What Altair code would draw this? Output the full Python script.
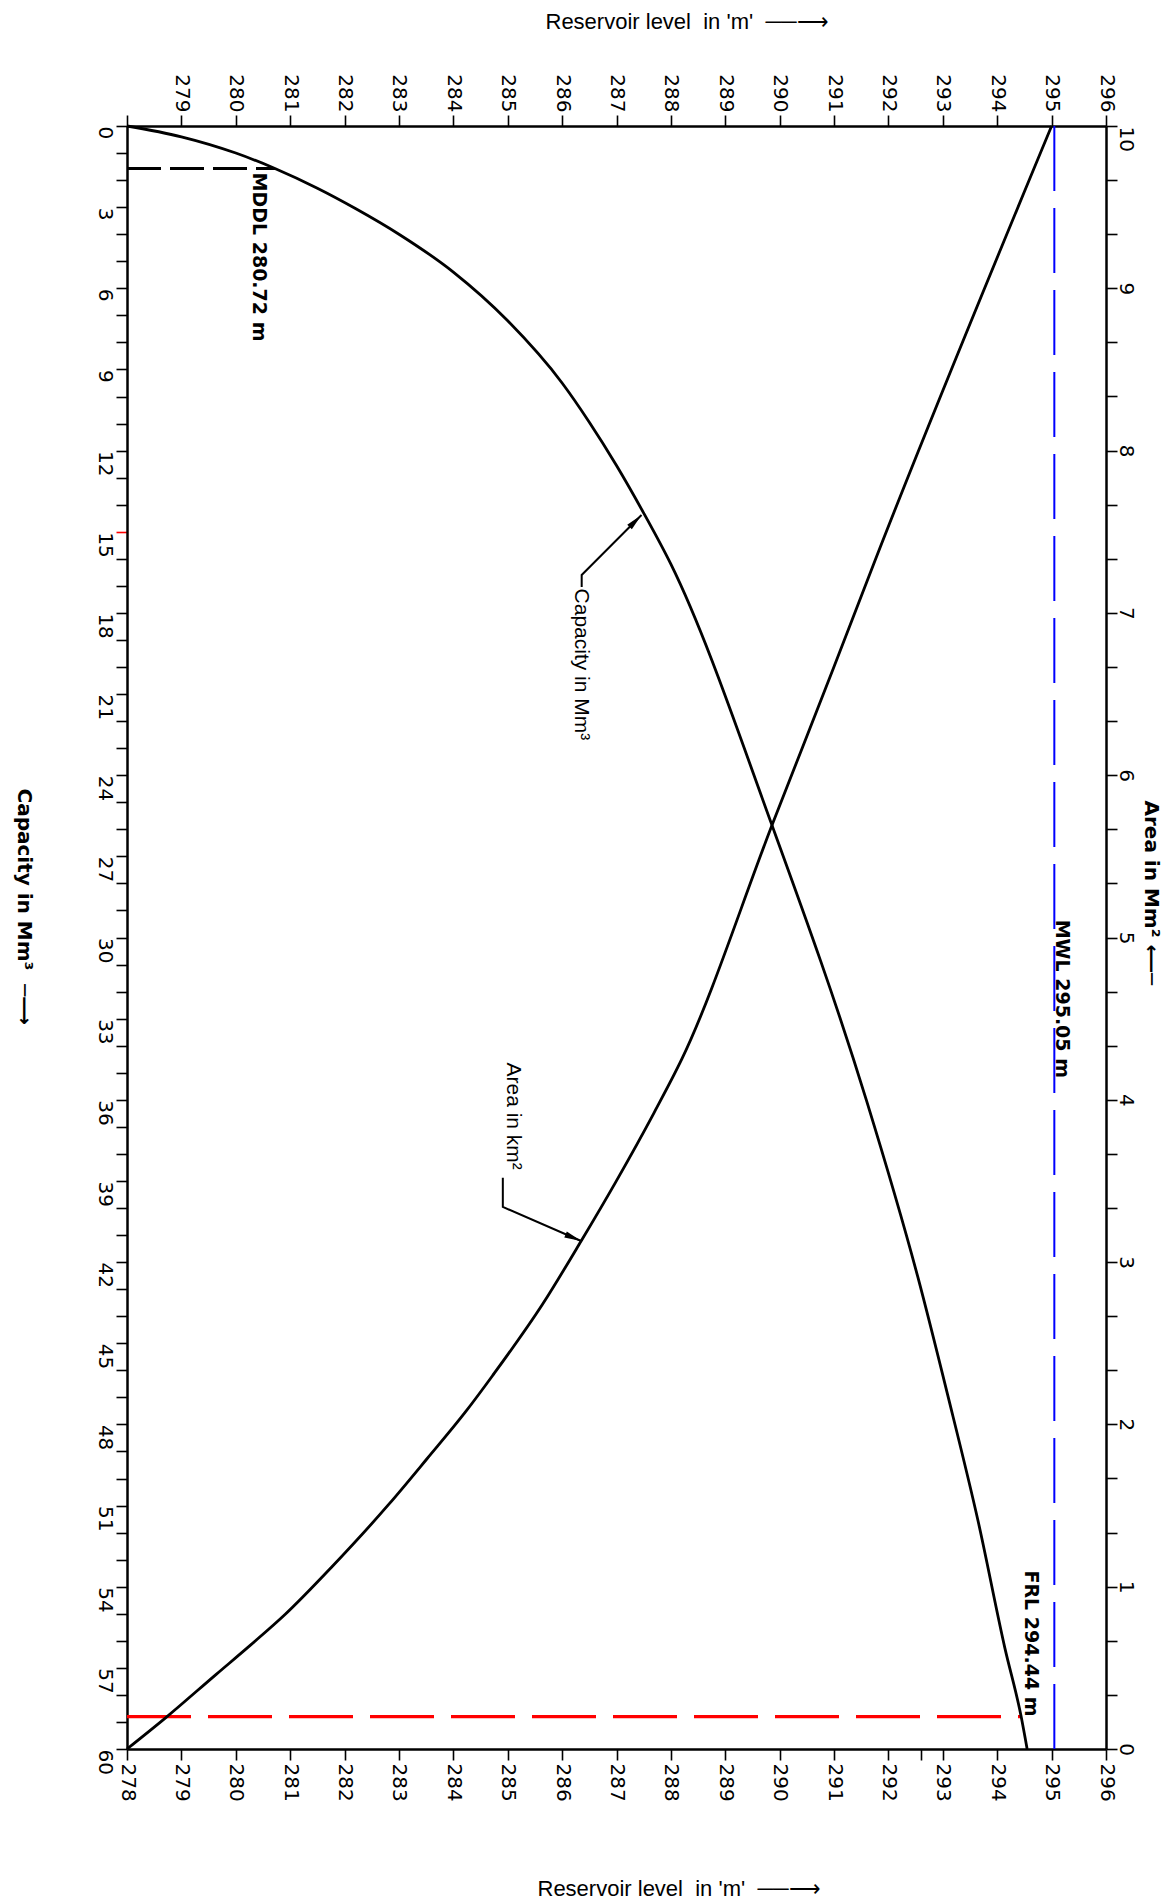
import altair as alt
import pandas as pd

# ---------------- values ----------------
level_min, level_max = 278, 296
cap_min, cap_max = 0, 60
area_min, area_max = 0, 10

# Capacity curve: reservoir level (m) vs capacity (Mm3)
cap_level = [278.0, 279.0, 280.0, 280.72, 281.5, 282.2, 283.0, 284.0, 285.0,
             286.0, 286.5, 287.0, 287.5, 288.0, 289.85, 291.6, 292.54, 293.09,
             293.65, 294.14, 294.44, 294.55]
cap_value = [0.0, 0.4, 1.0, 1.57, 2.3, 3.05, 4.0, 5.4, 7.2,
             9.5, 10.95, 12.55, 14.31, 16.2, 25.8, 36.05, 42.55, 46.92,
             51.59, 56.26, 58.8, 60.0]

# Area curve: reservoir level (m) vs area (km2)
area_level = [278.0, 278.72, 279.64, 280.27, 280.91, 281.76, 282.82, 283.52, 284.23,
              284.72, 285.64, 286.35, 286.98, 287.69, 288.2, 289.88, 290.99, 291.75, 295.0]
area_value = [0.0, 0.195, 0.46, 0.64, 0.83, 1.12, 1.51, 1.79, 2.08,
              2.30, 2.74, 3.13, 3.49, 3.92, 4.25, 5.71, 6.66, 7.32, 10.0]

# Reference levels
mddl_level, mddl_cap = 280.72, 1.57
frl_level, frl_cap = 294.44, 58.8
mwl_level = 295.05

# Tick values
level_ticks = list(range(278, 297))
level_extra_tick = [292.6]
cap_ticks = list(range(0, 61))
area_ticks = [i / 3 for i in range(31)]

# Text labels (position in data units)
mddl_label = ["MDDL 280.72 m", 280.42, 1.72]
mwl_label = ["MWL 295.05 m", 295.2, 5.11]
frl_label = ["FRL 294.44 m", 294.63, 58.8]

cap_note = ["Capacity in Mm³", 286.34, 17.1]
cap_leader_level = [286.36, 286.36, 287.46]
cap_leader_cap = [17.04, 16.6, 14.38]

area_note = ["Area in km²", 285.1, 4.23]
area_leader_level = [284.91, 284.91, 286.35]
area_leader_area = [3.52, 3.34, 3.13]

NB = "\u00a0"
level_title = f"Reservoir level{NB}{NB}in 'm'{NB}{NB}──⟶"
cap_title = f"Capacity in Mm³{NB}{NB}─⟶"
area_title = f"Area in Mm²{NB}⟵─"

# ---------------- helpers ----------------
W, H = 979, 1623
LBL_FONT = "DejaVu Sans"


def xenc(field, axis=None):
    return alt.X(f"{field}:Q",
                 scale=alt.Scale(domain=[level_min, level_max], nice=False, zero=False),
                 axis=axis)


def xenc2(field):
    return alt.X2(f"{field}:Q")


def ycap(field, axis=None):
    return alt.Y(f"{field}:Q",
                 scale=alt.Scale(domain=[cap_min, cap_max], reverse=True, nice=False, zero=False),
                 axis=axis)


def yarea(field, axis=None):
    return alt.Y(f"{field}:Q",
                 scale=alt.Scale(domain=[area_min, area_max], nice=False, zero=False),
                 axis=axis)


common_axis = dict(
    domainColor="black", domainWidth=2.5, tickColor="black", tickWidth=1.6,
    tickSize=11, labelColor="black", labelFont=LBL_FONT, labelFontSize=20,
    grid=False, labelOverlap=False, labelFlush=False, labelBound=False,
    titleColor="black",
)

bottom_axis = alt.Axis(
    orient="bottom", values=level_ticks + level_extra_tick,
    labelExpr="datum.value % 1 === 0 ? format(datum.value, 'd') : ''",
    labelAngle=90, labelAlign="left", labelBaseline="middle", labelPadding=3,
    title=level_title, titleFont="Liberation Sans", titleFontSize=22,
    titleFontWeight="normal", titleAngle=0, titleAlign="left",
    titleBaseline="middle", titleX=410, titleY=139, **common_axis)

top_axis = alt.Axis(
    orient="top", values=level_ticks,
    labelExpr="datum.value === 278 ? '' : format(datum.value, 'd')",
    labelAngle=90, labelAlign="right", labelBaseline="middle", labelPadding=3,
    title=level_title, titleFont="Liberation Sans", titleFontSize=22,
    titleFontWeight="normal", titleAngle=0, titleAlign="left",
    titleBaseline="middle", titleX=418, titleY=-105, **common_axis)

left_axis_kw = dict(common_axis)
left_axis_kw["tickColor"] = {"condition": {"test": "datum.value === 15", "value": "#ff0000"},
                             "value": "black"}
left_axis = alt.Axis(
    orient="left", values=cap_ticks,
    labelExpr="datum.value % 3 === 0 ? format(datum.value, 'd') : ''",
    labelAngle=90, labelAlign="left", labelBaseline="middle", labelPadding=12,
    title=cap_title, titleFont=LBL_FONT, titleFontSize=20, titleFontWeight="bold",
    titleAngle=90, titleAlign="left", titleBaseline="middle",
    titleX=-104, titleY=662, **left_axis_kw)

right_axis = alt.Axis(
    orient="right", values=area_ticks,
    labelExpr="abs(datum.value - round(datum.value)) < 0.001 ? format(round(datum.value), 'd') : ''",
    labelAngle=90,
    labelAlign={"condition": {"test": "datum.value > 9.99", "value": "left"}, "value": "center"},
    labelBaseline="middle", labelPadding=8,
    title=area_title, titleFont=LBL_FONT, titleFontSize=20, titleFontWeight="bold",
    titleAngle=90, titleAlign="left", titleBaseline="middle",
    titleX=44, titleY=674, **common_axis)

# ---------------- data frames ----------------
cap_df = pd.DataFrame({"level": cap_level, "cap": cap_value})
area_df = pd.DataFrame({"level": area_level, "area": area_value})

mddl_df = pd.DataFrame({"l0": [level_min], "l1": [mddl_level], "cap": [mddl_cap]})
frl_df = pd.DataFrame({"l0": [level_min], "l1": [frl_level], "cap": [frl_cap]})
mwl_df = pd.DataFrame({"level": [mwl_level]})

# ---------------- layers ----------------
mwl_rule = alt.Chart(mwl_df).mark_rule(color="#0000ff", strokeWidth=2, strokeDash=[65, 17]).encode(
    x=xenc("level"))

frl_rule = alt.Chart(frl_df).mark_rule(color="#ff0000", strokeWidth=3.2, strokeDash=[64, 17]).encode(
    x=xenc("l0"), x2=xenc2("l1"), y=ycap("cap"))

mddl_rule = alt.Chart(mddl_df).mark_rule(color="black", strokeWidth=3, strokeDash=[34, 9]).encode(
    x=xenc("l0"), x2=xenc2("l1"), y=ycap("cap"))

cap_line = alt.Chart(cap_df).mark_line(color="black", strokeWidth=2.8, interpolate="monotone").encode(
    x=xenc("level", bottom_axis), y=ycap("cap", left_axis))

area_line = alt.Chart(area_df).mark_line(color="black", strokeWidth=2.8, interpolate="monotone").encode(
    x=xenc("level", top_axis), y=yarea("area", right_axis))


def bold_text(lbl, yfun, align):
    df = pd.DataFrame({"t": [lbl[0]], "level": [lbl[1]], "v": [lbl[2]]})
    return alt.Chart(df).mark_text(
        angle=90, align=align, baseline="middle", font=LBL_FONT, fontWeight="bold",
        fontSize=19, color="black").encode(x=xenc("level"), y=yfun("v"), text="t:N")


mddl_txt = bold_text(mddl_label, ycap, "left")
mwl_txt = bold_text(mwl_label, yarea, "left")
frl_txt = bold_text(frl_label, ycap, "right")


def note_text(lbl, yfun):
    df = pd.DataFrame({"t": [lbl[0]], "level": [lbl[1]], "v": [lbl[2]]})
    return alt.Chart(df).mark_text(
        angle=90, align="left", baseline="middle", font="Liberation Sans",
        fontSize=21, color="black").encode(x=xenc("level"), y=yfun("v"), text="t:N")


cap_note_txt = note_text(cap_note, ycap)
area_note_txt = note_text(area_note, yarea)

ARROW = "M0,0L0.5,2.6L-0.5,2.6Z"


def leader(levels, vals, yfun, angle):
    df = pd.DataFrame({"level": levels, "v": vals, "i": list(range(len(levels)))})
    line = alt.Chart(df).mark_line(color="black", strokeWidth=2).encode(
        x=xenc("level"), y=yfun("v"), order="i:O")
    tip = alt.Chart(df.tail(1)).mark_point(
        shape=ARROW, filled=True, color="black", size=170, angle=angle, opacity=1,
        strokeWidth=0).encode(x=xenc("level"), y=yfun("v"))
    return [line, tip]


cap_leader = leader(cap_leader_level, cap_leader_cap, ycap, 45)
area_leader = leader(area_leader_level, area_leader_area, yarea, 113)

chart = alt.layer(
    mwl_rule, frl_rule, mddl_rule, cap_line, area_line,
    mddl_txt, mwl_txt, frl_txt, cap_note_txt, area_note_txt,
    *cap_leader, *area_leader,
).resolve_scale(
    x="independent", y="independent"
).resolve_axis(
    x="independent", y="independent"
).properties(
    width=W, height=H,
    autosize=alt.AutoSizeParams(type="none"),
    padding={"left": 127, "top": 126, "right": 1175 - 127 - W, "bottom": 1901 - 126 - H},
    background="white",
).configure_view(stroke=None)

chart.save("out.html", embed_options={"renderer": "svg", "actions": False})
